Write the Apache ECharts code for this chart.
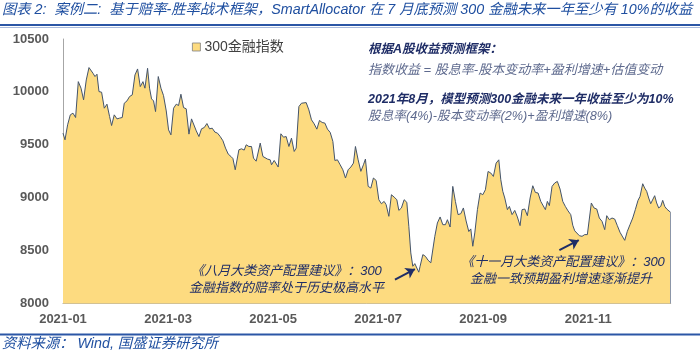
<!DOCTYPE html>
<html>
<head>
<meta charset="utf-8">
<script src="https://cdn.jsdelivr.net/npm/echarts@6.0.0/dist/echarts.min.js"></script>
<style>
html,body{margin:0;padding:0;background:#fff;}
#c{width:700px;height:355px;}
</style>
</head>
<body>
<div id="c"></div>
<script>
// time position in months since 2021-01-01
const monthPos = [0,0.038,0.088,0.139,0.190,0.240,0.291,0.343,0.392,0.443,0.495,0.533,0.571,0.609,0.647,0.685,0.735,0.786,0.837,0.887,0.925,0.976,1.028,1.077,1.128,1.166,1.218,1.267,1.319,1.370,1.420,1.471,1.522,1.560,1.610,1.648,1.686,1.724,1.762,1.814,1.865,
1.914,1.966,2.010,2.055,2.105,2.156,2.200,2.245,2.295,2.346,2.398,2.447,2.485,2.537,2.588,2.637,2.689,2.740,2.790,2.841,2.892,2.942,2.993,3.045,3.094,3.146,3.197,3.235,3.279,3.349,
3.399,3.450,3.488,3.539,3.589,3.627,3.678,3.716,3.755,3.806,3.844,3.893,3.945,3.970,4.021,4.059,4.097,4.148,4.198,4.249,4.301,4.350,4.402,4.440,4.491,4.540,4.578,4.630,4.681,4.731,
4.782,4.833,4.883,4.934,4.986,5.035,5.087,5.138,5.176,5.225,5.277,5.328,5.378,5.429,5.480,5.530,5.568,5.619,5.671,5.720,5.758,5.810,5.861,5.910,5.962,6.013,6.063,6.114,6.152,6.204,
6.253,6.304,6.356,6.394,6.443,6.495,6.546,6.584,6.622,6.660,6.698,6.736,6.774,6.799,6.851,6.900,6.951,7.003,7.041,7.079,7.128,7.180,7.231,7.281,7.319,7.370,7.421,7.471,7.522,7.574,
7.623,7.675,7.726,7.764,7.802,7.840,7.890,7.941,7.992,8.042,8.093,8.145,8.194,8.246,8.297,8.335,8.373,8.411,8.461,8.499,8.550,8.601,8.651,8.702,8.740,8.792,8.841,8.893,8.944,8.993,
9.045,9.096,9.134,9.184,9.222,9.260,9.311,9.362,9.412,9.463,9.515,9.564,9.616,9.667,9.705,9.743,9.781,9.831,9.882,9.933,9.983,10.010,10.059,10.110,10.162,10.211,10.263,10.314,10.352,10.402,
10.453,10.504,10.554,10.605,10.656,10.695,10.744,10.795,10.847,10.896,10.948,10.986,11.037,11.075,11.113,11.151,11.189,11.227,11.265,11.303,11.341,11.380,11.418,11.456,11.494,11.532,11.570];

const indexValues = [9610,9547,9689,9783,9799,9758,10097,10035,9925,10113,10230,10239,10176,10145,10167,10003,9997,9846,9884,9767,9682,9783,9745,9752,9758,9893,9915,9956,9972,10160,10217,10050,10097,10035,10223,10035,9934,9915,9814,10145,10035,
9965,9820,9641,9594,9846,9884,9871,9978,9852,9840,9601,9745,9736,9632,9578,9651,9663,9701,9651,9657,9620,9610,9578,9538,9469,9412,9390,9370,9264,9453,
9462,9450,9500,9484,9484,9374,9345,9340,9516,9390,9374,9365,9358,9311,9352,9343,9290,9604,9572,9578,9484,9563,9437,9469,9861,9893,9877,9899,9830,9736,
9698,9648,9730,9711,9705,9648,9617,9532,9352,9358,9311,9264,9186,9264,9290,9327,9484,9358,9249,9311,9365,9107,9091,9186,9163,8981,8943,8965,8934,8824,
9028,9006,8981,8880,8903,8981,8956,8730,8478,8352,8377,8390,8296,8352,8462,8446,8409,8384,8399,8635,8761,8818,8745,8745,8792,8723,9107,8965,8840,8849,
8903,8780,8680,8705,8541,8667,8887,9044,9028,9075,9248,9233,9201,9327,9358,9170,9060,8997,8887,8918,8840,8880,8818,8736,8887,8893,8830,8997,9113,9050,
9044,8965,8950,8887,8965,8925,9107,9139,9154,9082,8965,8918,8875,8840,8740,8687,8673,8641,8635,8651,8651,8660,8950,8903,8893,8808,8776,8698,8830,8792,
8808,8798,8736,8673,8629,8597,8682,8745,8808,8887,8975,9012,9132,9091,9060,8997,8943,8956,9019,8950,8903,8918,8975,8918,8893,8903,8861];

const seriesName = '300金融指数';
const yTicks = {min: 8000, max: 10500, step: 500};
const xYear = '2021';
const xLabelStep = 2;
// annotation arrows in data units [month, value]
const arrow1 = [[6.32, 8226], [6.70, 8325]];
const arrow2 = [[9.45, 8505], [9.82, 8598]];

const LATIN = '"Liberation Sans", "Noto Sans CJK SC", sans-serif';
const CJK = '"Liberation Sans", "Noto Sans CJK SC", sans-serif';
const navy = '#1F2D66';
const grayBlue = '#5E6A8E';
const blue = '#1F4FA0';
const fillColor = '#FDDB80';

const lastI = monthPos.length - 1;
const data = monthPos.map((t, i) => [t, indexValues[i]]);

function txt(text, x, y, o) {
  return {
    type: 'text', silent: true, z: 100,
    style: {
      text: text, x: x, y: y,
      fill: o.fill, fontSize: o.size, fontFamily: CJK,
      fontStyle: 'italic', fontWeight: o.bold ? 'bold' : 'normal',
      textAlign: o.align || 'left', align: o.align || 'left',
      textVerticalAlign: 'middle', verticalAlign: 'middle'
    }
  };
}

const chart = echarts.init(document.getElementById('c'), null, {renderer: 'canvas'});
const option = {
  animation: false,
  backgroundColor: '#fff',
  grid: {left: 63, right: 29.3, top: 39, bottom: 51.5},
  legend: {
    left: 187, top: 35, itemWidth: 8, itemHeight: 8, itemGap: 10,
    data: [{name: seriesName, icon: 'rect', itemStyle: {color: fillColor, borderColor: '#7F7F7F', borderWidth: 0.8}}],
    textStyle: {fontSize: 14, color: '#404040', fontFamily: CJK, padding: [0, 0, 0, -1]}
  },
  xAxis: {
    type: 'value', min: 0, max: monthPos[lastI], interval: xLabelStep,
    axisLine: {show: true, lineStyle: {color: '#A6A6A6', width: 1}},
    axisTick: {show: false}, splitLine: {show: false},
    axisLabel: {
      color: '#595959', fontWeight: 'bold', fontSize: 13, margin: 9, fontFamily: LATIN,
      showMaxLabel: false,
      formatter: function (v) {
        const r = Math.round(v);
        if (Math.abs(v - r) > 1e-6 || r % xLabelStep !== 0) return '';
        return xYear + '-' + String(r + 1).padStart(2, '0');
      }
    }
  },
  yAxis: {
    type: 'value', min: yTicks.min, max: yTicks.max, interval: yTicks.step,
    axisLine: {show: true, lineStyle: {color: '#A6A6A6', width: 1}},
    axisTick: {show: false}, splitLine: {show: false},
    axisLabel: {color: '#595959', fontWeight: 'bold', fontSize: 13, margin: 14, fontFamily: LATIN,
      formatter: function (v) { return String(v); }}
  },
  series: [{
    name: seriesName, type: 'line', data: data,
    showSymbol: false, symbol: 'none',
    lineStyle: {color: '#44546A', width: 1},
    itemStyle: {color: fillColor},
    areaStyle: {color: fillColor, opacity: 1, origin: 'start'},
    markLine: {
      silent: true, animation: false,
      label: {show: false},
      data: [
        [{coord: arrow1[0], symbol: 'none', lineStyle: {color: navy, width: 2, type: 'solid'}},
         {coord: arrow1[1], symbol: 'arrow', symbolSize: 9}],
        [{coord: arrow2[0], symbol: 'none', lineStyle: {color: navy, width: 2, type: 'solid'}},
         {coord: arrow2[1], symbol: 'arrow', symbolSize: 9}],
        [{coord: [monthPos[lastI], indexValues[lastI]], symbol: 'none', lineStyle: {color: '#8C96A8', width: 1, type: 'solid'}},
         {coord: [monthPos[lastI], yTicks.min], symbol: 'none'}]
      ]
    }
  }],
  graphic: [
    txt('图表 2:  案例二:  基于赔率-胜率战术框架，SmartAllocator 在 7 月底预测 300 金融未来一年至少有 10%的收益', 2, 10, {fill: blue, size: 14.3}),
    {type: 'rect', silent: true, z: 100, shape: {x: 0, y: 24, width: 700, height: 2}, style: {fill: '#2B56A6'}},
    {type: 'rect', silent: true, z: 100, shape: {x: 0, y: 27, width: 700, height: 1}, style: {fill: '#A9BBDD'}},
    {type: 'rect', silent: true, z: 100, shape: {x: 0, y: 333.5, width: 700, height: 2}, style: {fill: '#2B56A6'}},
    txt('资料来源： Wind, 国盛证券研究所', 2, 344, {fill: blue, size: 14.3}),
    txt('根据A股收益预测框架：', 368, 49.5, {fill: navy, size: 12.5, bold: true}),
    txt('指数收益 = 股息率-股本变动率+盈利增速+估值变动', 368, 70, {fill: grayBlue, size: 13}),
    txt('2021年8月，模型预测300金融未来一年收益至少为10%', 368, 99.5, {fill: navy, size: 12.5, bold: true}),
    txt('股息率(4%)-股本变动率(2%)+盈利增速(8%)', 368, 116, {fill: grayBlue, size: 12.7}),
    txt('《八月大类资产配置建议》：300', 286.5, 271, {fill: navy, size: 13, align: 'center'}),
    txt('金融指数的赔率处于历史极高水平', 286.5, 288.5, {fill: navy, size: 13, align: 'center'}),
    txt('《十一月大类资产配置建议》：300', 563, 262, {fill: navy, size: 13, align: 'center'}),
    txt('金融一致预期盈利增速逐渐提升', 561, 279, {fill: navy, size: 13, align: 'center'})
  ]
};
chart.setOption(option);
</script>
</body>
</html>
